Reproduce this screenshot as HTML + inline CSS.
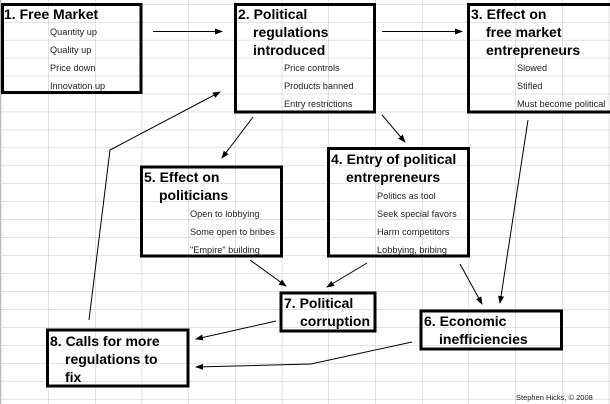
<!DOCTYPE html>
<html><head><meta charset="utf-8"><style>
html,body{margin:0;padding:0;background:#fff;}
svg{display:block;}
text{font-family:"Liberation Sans",Arial,sans-serif;fill:#000;}
.t{font-size:14px;font-weight:bold;}
.i{font-size:9.2px;fill:#222;}
</style></head><body>
<svg width="610" height="404" viewBox="0 0 610 404" xmlns="http://www.w3.org/2000/svg">
<defs>
<marker id="a" markerWidth="8" markerHeight="8" refX="7" refY="4" orient="auto" markerUnits="userSpaceOnUse">
<path d="M0,1 L8,4 L0,7 z" fill="#000"/>
</marker>
<pattern id="g" x="1.6" y="4" width="46.7" height="17.95" patternUnits="userSpaceOnUse">
<path d="M0,0 V17.95 M0,0 H46.7" stroke="#c4c4c4" stroke-width="1" fill="none"/>
</pattern>
</defs>
<rect width="610" height="404" fill="#fff"/>
<rect width="610" height="404" fill="url(#g)"/>
<line x1="0.5" y1="0" x2="0.5" y2="404" stroke="#bbb"/>

<g fill="none" stroke="#000" stroke-width="3">
<rect x="2.5" y="4.5" width="138.5" height="88"/>
<rect x="235.5" y="4.5" width="139" height="107.5"/>
<rect x="468.5" y="4.5" width="145" height="107.5"/>
<rect x="141.5" y="167" width="140" height="89"/>
<rect x="328.5" y="148.5" width="140" height="107.5"/>
<rect x="281" y="293" width="94" height="38"/>
<rect x="421" y="311" width="140.5" height="38"/>
<rect x="47.5" y="330" width="140.5" height="56"/>
</g>

<g stroke="#000" stroke-width="1" fill="none" marker-end="url(#a)">
<line x1="153" y1="31.5" x2="222" y2="31.5"/>
<line x1="382" y1="31.5" x2="462" y2="31.5"/>
<polyline points="89,320 110,150 220,92"/>
<line x1="253" y1="117" x2="222" y2="158"/>
<line x1="382" y1="115" x2="405" y2="142"/>
<line x1="528" y1="120" x2="500" y2="303"/>
<line x1="460" y1="264" x2="482" y2="304"/>
<line x1="250" y1="260" x2="286" y2="286"/>
<line x1="367" y1="263" x2="327" y2="287"/>
<line x1="276" y1="321" x2="196" y2="339"/>
<polyline points="412,342 311,364 196,367"/>
</g>

<text class="t" x="4" y="19">1. Free Market</text>
<text class="i" x="50" y="35">Quantity up</text>
<text class="i" x="50" y="53">Quality up</text>
<text class="i" x="50" y="71">Price down</text>
<text class="i" x="50" y="89">Innovation up</text>

<text class="t" x="238" y="19">2. Political</text>
<text class="t" x="253" y="37">regulations</text>
<text class="t" x="253" y="55">introduced</text>
<text class="i" x="284" y="71">Price controls</text>
<text class="i" x="284" y="89">Products banned</text>
<text class="i" x="284" y="107">Entry restrictions</text>

<text class="t" x="471" y="19">3. Effect on</text>
<text class="t" x="486" y="37">free market</text>
<text class="t" x="486" y="55">entrepreneurs</text>
<text class="i" x="517" y="71">Slowed</text>
<text class="i" x="517" y="89">Stifled</text>
<text class="i" x="517" y="107">Must become political</text>

<text class="t" x="144" y="182">5. Effect on</text>
<text class="t" x="159" y="200">politicians</text>
<text class="i" x="190" y="217">Open to lobbying</text>
<text class="i" x="190" y="235">Some open to bribes</text>
<text class="i" x="190" y="253">"Empire" building</text>

<text class="t" x="331" y="164">4. Entry of political</text>
<text class="t" x="346" y="182">entrepreneurs</text>
<text class="i" x="377" y="199">Politics as tool</text>
<text class="i" x="377" y="217">Seek special favors</text>
<text class="i" x="377" y="235">Harm competitors</text>
<text class="i" x="377" y="253">Lobbying, bribing</text>

<text class="t" x="284" y="308">7. Political</text>
<text class="t" x="300" y="326">corruption</text>

<text class="t" x="424" y="326">6. Economic</text>
<text class="t" x="439" y="344">inefficiencies</text>

<text class="t" x="50" y="346">8. Calls for more</text>
<text class="t" x="65" y="364">regulations to</text>
<text class="t" x="65" y="382">fix</text>

<text x="516" y="400" style="font-size:7.5px;fill:#222">Stephen Hicks, © 2008</text>
</svg>
</body></html>
